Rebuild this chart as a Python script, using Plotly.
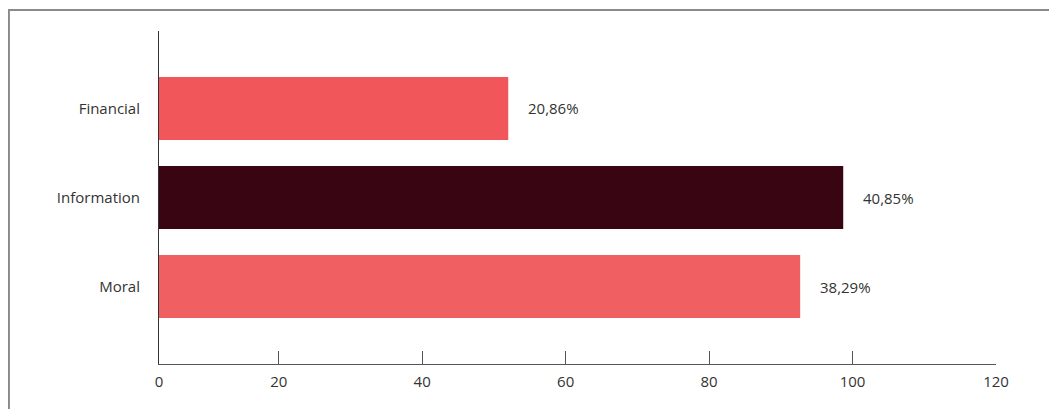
import plotly.graph_objects as go

categories = ["Financial", "Information", "Moral"]
values = [52.0, 98.7, 92.7]
labels = ["20,86%", "40,85%", "38,29%"]
colors = ["#F0565A", "#3A0512", "#F06062"]
tick_vals = [3.31, 20, 40, 60, 80, 100, 120]
tick_text = ["0", "20", "40", "60", "80", "100", "120"]

FONT = "Open Sans"

fig = go.Figure()
fig.add_trace(go.Bar(
    y=categories, x=values, orientation="h",
    marker=dict(color=colors, line=dict(width=0)),
    hoverinfo="skip",
))

for c, v, t in zip(categories, values, labels):
    fig.add_annotation(x=v, y=c, text=t, showarrow=False, xanchor="left",
                       xshift=18, font=dict(family=FONT, size=15, color="#333333"))

fig.add_shape(type="rect", xref="paper", yref="paper",
              x0=-0.1793, x1=1.2, y0=-0.3, y1=1.063,
              line=dict(color="#8a8a8a", width=2), layer="above")

fig.update_layout(
    width=1057, height=409,
    margin=dict(l=151, r=69, t=23, b=53),
    paper_bgcolor="white", plot_bgcolor="white",
    showlegend=False, bargap=0.292,
    font=dict(family=FONT, size=15, color="#333333"),
    xaxis=dict(range=[3.31, 120], tickvals=tick_vals, ticktext=tick_text,
               showgrid=False, zeroline=False, showline=True,
               linecolor="#555555", linewidth=1,
               ticks="inside", ticklen=13, tickcolor="#555555", tickwidth=1,
               ticklabelstandoff=4,
               tickfont=dict(family=FONT, size=15, color="#333333")),
    yaxis=dict(range=[2.87, -0.87], showgrid=False, zeroline=False,
               showline=True, linecolor="#333333", linewidth=1,
               ticks="", ticklabelstandoff=15,
               tickfont=dict(family=FONT, size=15, color="#333333")),
)

fig.write_html("out.html")
